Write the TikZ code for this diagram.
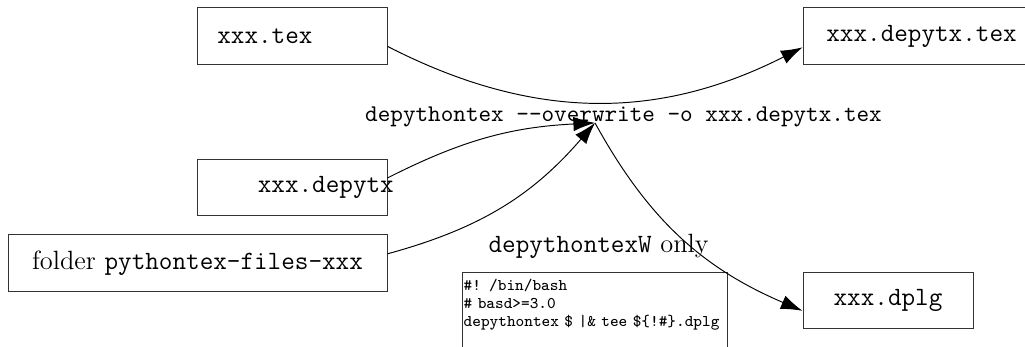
\documentclass[tikz,border=0pt]{standalone}
\usetikzlibrary{arrows.meta, positioning}

\begin{document}
\begin{tikzpicture}[
  file/.style={draw=black!80, minimum height=0.835cm, font=\ttfamily\fontsize{11}{13}\selectfont, inner sep=0pt},
  arr/.style={-{Latex[length=9pt, width=6pt]}},
  lbl/.style={font=\ttfamily, inner sep=0pt}
]
\useasboundingbox (0,0) rectangle (15.01,5.08);

% Inputs
\node[file, minimum width=2.768cm, text width=2.2cm, align=left, inner xsep=0.284cm] (tex) at (4.283,4.547) {xxx.tex};
\node[file, minimum width=2.768cm, minimum height=0.82cm] (dep) at (4.283,2.328) {};
\node[lbl, font=\ttfamily\fontsize{11}{13}\selectfont, anchor=east] (deplbl) at ([xshift=0.1cm]dep.east) {xxx.depytx};
\node[file, minimum width=5.55cm] (fold) at (2.892,1.223) {\rmfamily folder \ttfamily pythontex-files-xxx};

% Outputs
\node[file, minimum width=3.47cm] (out) at (13.495,4.547) {xxx.depytx.tex};
\node[file, minimum width=2.489cm, minimum height=0.82cm] (dplg) at (13.004,0.674) {xxx.dplg};

% Command
\coordinate (hub) at (8.713,3.28);
\node[lbl, anchor=base] (cmd) at (9.131,3.295) {depythontex -{}-overwrite -o xxx.depytx.tex};
\node[anchor=base, inner sep=0pt, font=\fontsize{11}{13}\selectfont] (wonly) at (8.765,1.377) {\texttt{depythontexW} only};
\node[draw=black!80, anchor=north west, font=\ttfamily\fontsize{6.8}{7.5}\selectfont, align=left,
      text width=3.85cm, inner xsep=0.5pt, inner ysep=3pt] (script) at (6.766,1.098)
  {\#! /bin/bash\\ \# basd>=3.0\\ depythontex \$ |\& tee \$\{!\#\}.dplg\\ \mbox{}\\ \mbox{}};

\draw[arr] ([yshift=-0.146cm]tex.east) to[bend right=27] ([yshift=-0.16cm]out.west);
\draw[arr] ([yshift=0.146cm]dep.east) to[bend left=12] (hub);
\draw[arr] ([yshift=0.14cm]fold.east) to[bend right=17] (hub);
\draw[arr] (hub) to[bend right=19] ([yshift=-0.146cm]dplg.west);
\end{tikzpicture}
\end{document}
